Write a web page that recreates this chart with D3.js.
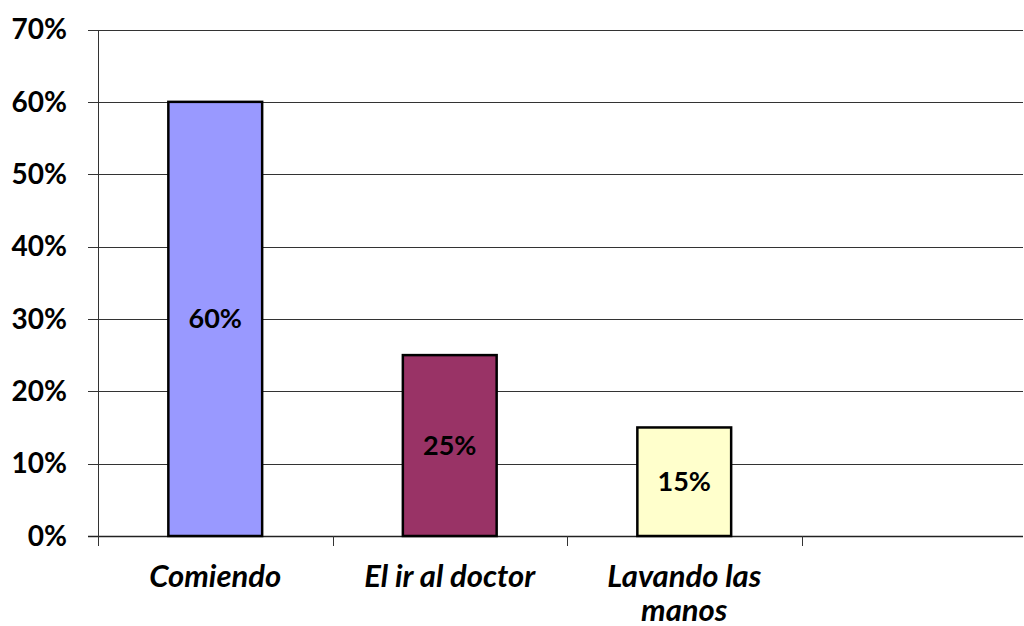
<!DOCTYPE html>
<html>
<head>
<meta charset="utf-8">
<script src="https://cdn.jsdelivr.net/npm/d3@7"></script>
<style>
  html, body { margin: 0; padding: 0; background: #fff; }
  svg { display: block; }
  text { font-family: Lato, "Noto Sans", sans-serif; font-weight: bold; fill: #000; }
</style>
</head>
<body>
<svg id="chart" width="1024" height="626"></svg>
<script>
// chart data
var categories = ['Comiendo', 'El ir al doctor', 'Lavando las manos', ''];
var categoryLines = [['Comiendo'], ['El ir al doctor'], ['Lavando las', 'manos'], []];
var values = [0.60, 0.25, 0.15, null];
var barColors = ['#9999FF', '#993366', '#FFFFCC', '#FFFFFF'];
var yTicks = [0, 0.1, 0.2, 0.3, 0.4, 0.5, 0.6, 0.7];

(function(){
    var svg = d3.select('#chart');
    var plotLeft = 98, plotRight = 1036, plotTop = 29.5, plotBottom = 536;

    var x = d3.scaleBand()
        .domain(d3.range(categories.length))
        .range([plotLeft, plotRight])
        .paddingInner(0.6)
        .paddingOuter(0.3);

    var y = d3.scaleLinear().domain([0, 0.7]).range([plotBottom, plotTop]);

    var fmt = d3.format('.0%');

    // grid lines + y tick marks
    svg.append('g')
        .selectAll('line')
        .data(yTicks)
        .enter()
        .append('line')
        .attr('x1', plotLeft - 10)
        .attr('x2', 1023)
        .attr('y1', function(d){ return Math.round(y(d)) + 0.5; })
        .attr('y2', function(d){ return Math.round(y(d)) + 0.5; })
        .style('stroke', function(d){ return d === 0 ? '#222' : '#333'; })
        .style('stroke-width', function(d){ return d === 0 ? 1.5 : 1; });

    // y axis line
    svg.append('line')
        .attr('x1', plotLeft + 0.5).attr('x2', plotLeft + 0.5)
        .attr('y1', Math.round(y(0.7))).attr('y2', plotBottom + 0.5)
        .style('stroke', '#333');

    // y labels
    svg.append('g')
        .selectAll('text')
        .data(yTicks)
        .enter()
        .append('text')
        .attr('x', 67)
        .attr('y', function(d){ return y(d); })
        .attr('dy', '0.35em')
        .attr('text-anchor', 'end')
        .attr('font-size', 28)
        .text(fmt);

    // x ticks at category boundaries
    var step = x.step();
    svg.append('g')
        .selectAll('line')
        .data(d3.range(categories.length))
        .enter()
        .append('line')
        .attr('x1', function(i){ return Math.round(plotLeft + i * step) + 0.5; })
        .attr('x2', function(i){ return Math.round(plotLeft + i * step) + 0.5; })
        .attr('y1', plotBottom)
        .attr('y2', plotBottom + 10)
        .style('stroke', '#333');

    // bars
    var barData = values.map(function(v, i){ return {v: v, i: i}; })
        .filter(function(d){ return d.v !== null; });

    svg.append('g')
        .selectAll('rect')
        .data(barData)
        .enter()
        .append('rect')
        .attr('x', function(d){ return x(d.i); })
        .attr('y', function(d){ return y(d.v); })
        .attr('width', x.bandwidth())
        .attr('height', function(d){ return y(0) - y(d.v); })
        .style('fill', function(d){ return barColors[d.i]; })
        .style('stroke', '#000')
        .style('stroke-width', 2.5);

    // value labels in the middle of each bar
    svg.append('g')
        .selectAll('text')
        .data(barData)
        .enter()
        .append('text')
        .attr('x', function(d){ return x(d.i) + x.bandwidth() / 2; })
        .attr('y', function(d){ return (y(d.v) + y(0)) / 2; })
        .attr('dy', '0.35em')
        .attr('text-anchor', 'middle')
        .attr('font-size', 27)
        .text(function(d){ return fmt(d.v); });

    // category labels, wrapped like the original
    var catText = svg.append('g')
        .selectAll('text')
        .data(d3.range(categories.length))
        .enter()
        .append('text')
        .attr('text-anchor', 'middle')
        .attr('font-size', 31)
        .style('font-style', 'italic');

    catText.selectAll('tspan')
        .data(function(i){ return categoryLines[i].map(function(t){ return {t: t, i: i}; }); })
        .enter()
        .append('tspan')
        .attr('x', function(d){ return x(d.i) + x.bandwidth() / 2; })
        .attr('y', function(d, k){ return 587 + k * 34; })
        .text(function(d){ return d.t; });
})();
</script>
</body>
</html>
